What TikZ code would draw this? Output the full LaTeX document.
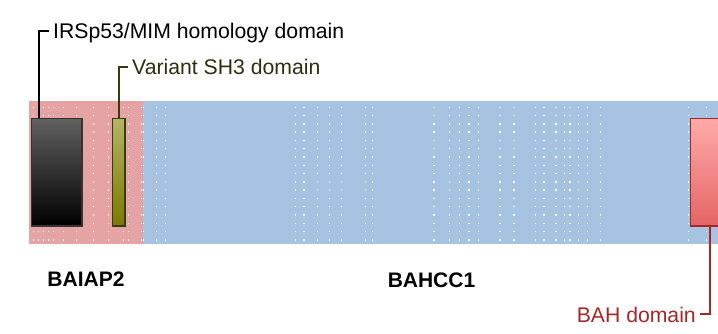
\documentclass[tikz,border=0pt]{standalone}
\usepackage{fontspec}
\setmainfont{Liberation Sans}
\definecolor{pinkband}{RGB}{229,163,163}
\definecolor{blueband}{RGB}{167,195,226}
\definecolor{olivedark}{RGB}{58,58,18}
\definecolor{bahred}{RGB}{165,40,40}
\begin{document}
\begin{tikzpicture}[x=1pt,y=-1pt,
  lbl/.style={font=\fontsize{21.2pt}{25pt}\selectfont, inner sep=0pt},
  glabel/.style={font=\fontsize{21pt}{25pt}\selectfont\bfseries, inner sep=0pt},
  leader/.style={line width=1.8pt},
  dom/.style={line width=1.5pt}]
\useasboundingbox (0,0) rectangle (718,334);
% bands
\fill[pinkband] (29,101) rectangle (143.3,243.7);
\fill[blueband] (143.3,101) rectangle (718,243.7);
% dots
\foreach \xx in {33.3,38.3,43.3,48.3,53.3,63.3,76.7,93.3,108.3,123.3,128.3,141.7,143.3,156.7,165.7,295.7,304,317.7,329.3,341.7,365.7,372.3,434,449.3,459.3,469,478.3,500,514,535.7,544,556,564.3,570,578.3,587.3,600.7,688.3,706.7}{
  \foreach \k in {0,...,16}{
    \fill[white] ({\xx-0.7},{107.3+8.29*\k-0.7}) rectangle ++(1.4,1.4);
  }
}
% domains
\shade[top color=black!62, bottom color=black] (31.7,118.3) rectangle (82,226);
\draw[dom, black!80] (31.7,118.3) rectangle (82,226);
\node[inner sep=0pt, minimum width=50.3pt, minimum height=107.7pt] (imd) at (56.85,172.15) {};
\shade[top color={rgb,255:red,180;green,180;blue,100}, bottom color={rgb,255:red,122;green,122;blue,0}] (112.3,118.3) rectangle (125,226);
\draw[dom, olivedark] (112.3,118.3) rectangle (125,226);
\node[inner sep=0pt, minimum width=12.7pt, minimum height=107.7pt] (sh3) at (118.65,172.15) {};
\shade[top color={rgb,255:red,255;green,170;blue,170}, bottom color={rgb,255:red,228;green,100;blue,100}] (690.7,118.3) rectangle (730,226);
\draw[dom, bahred] (690.7,118.3) rectangle (730,226);
\node[inner sep=0pt, minimum width=39.3pt, minimum height=107.7pt] (bah) at (710.35,172.15) {};
% labels
\node[lbl, anchor=base west] (t1) at (53,38.3) {IRSp53/MIM homology domain};
\node[lbl, anchor=base west, text=olivedark!80!black] (t2) at (132,75) {Variant SH3 domain};
\node[lbl, anchor=base east, text=bahred] (t3) at (696,322) {BAH domain};
\node[glabel] (g1) at (86,279.5) {BAIAP2};
\node[glabel] (g2) at (431.5,280) {BAHCC1};
% leaders
\coordinate (c1) at (39,31);
\coordinate (c2) at (118.65,67);
\coordinate (c3) at (710.35,314);
\draw[leader, black] (imd.north -| c1) -- (c1) -- ([xshift=-4pt]t1.west |- c1);
\draw[leader, olivedark] (sh3.north) -- (c2) -- ([xshift=-4pt]t2.west |- c2);
\draw[leader, bahred] (bah.south) -- (c3) -- ([xshift=4pt]t3.east |- c3);
\end{tikzpicture}
\end{document}
